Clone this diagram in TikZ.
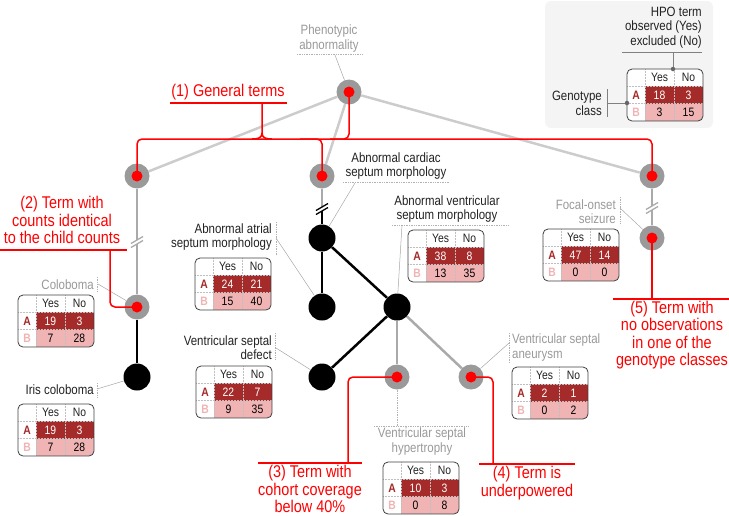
\documentclass[tikz,border=0pt]{standalone}
\usepackage{fontspec}
\setmainfont{Liberation Sans}[FakeStretch=0.85]
\definecolor{ngray}{HTML}{9A9A9A}
\definecolor{lgray}{HTML}{CCCCCC}
\definecolor{mgray}{HTML}{AAAAAA}
\definecolor{txt}{HTML}{222222}
\definecolor{lgtxt}{HTML}{999999}
\definecolor{cA}{HTML}{A52A2A}
\definecolor{cB}{HTML}{F0B4B4}
\definecolor{legbg}{HTML}{F4F4F4}
\tikzset{
 gnode/.style={circle, fill=ngray, minimum size=25pt, inner sep=0pt},
 bnode/.style={circle, fill=black, minimum size=27pt, inner sep=0pt},
 rdot/.style={circle, fill=red, minimum size=11pt, inner sep=0pt},
 ledge/.style={draw=lgray, line width=2.5pt},
 gedge/.style={draw=mgray, line width=2.5pt},
 bedge/.style={draw=black, line width=2.5pt},
 redl/.style={draw=red, line width=1.5pt, rounded corners=5pt},
 leader/.style={draw=gray!70, line width=0.5pt},
 dsep/.style={draw=gray!60, line width=0.7pt, densely dotted},
 lab/.style={font=\fontsize{13.5}{14.5}\selectfont, text=txt, inner sep=0pt, align=right},
 glab/.style={lab, text=lgtxt},
 ann/.style={font=\fontsize{17}{17.5}\selectfont, text=red, inner sep=0pt, align=center},
 tt/.style={font=\fontsize{12.2}{12}\selectfont, inner sep=0pt, text height=8.8pt, text depth=0pt},
 tgrid/.style={draw=gray!50, line width=0.5pt, densely dotted},
 tabframe/.style={draw=black!75, line width=0.8pt, rounded corners=5pt},
 legline/.style={draw=gray, line width=1pt},
 legdot/.style={circle, fill=black!60, minimum size=4.5pt, inner sep=0pt},
}
\newcommand{\ctab}[6]{%
 \begin{scope}[shift={#2}]
  \begin{scope}
   \clip[rounded corners=5pt] (0,0) rectangle (76,52);
   \fill[white] (0,0) rectangle (76,52);
   \fill[cA] (18,17) rectangle (76,34.5);
   \fill[cB] (18,34.5) rectangle (76,52);
  \end{scope}
  \draw[tgrid] (18,0) -- (18,52) (47,0) -- (47,52) (0,17) -- (76,17) (0,34.5) -- (76,34.5);
  \draw[tabframe] (0,0) rectangle (76,52);
  \node[tt, text=txt] (#1-yes) at (32.5,8.5) {Yes};
  \node[tt, text=txt] (#1-no) at (61.5,8.5) {No};
  \node[tt, text=cA, font=\fontsize{12.2}{12}\selectfont\bfseries] (#1-a) at (9,25.8) {A};
  \node[tt, text=cB, font=\fontsize{12.2}{12}\selectfont\bfseries] (#1-b) at (9,43.3) {B};
  \node[tt, text=white] (#1-ay) at (32.5,25.8) {#3};
  \node[tt, text=white] (#1-an) at (61.5,25.8) {#4};
  \node[tt, text=black] (#1-by) at (32.5,43.3) {#5};
  \node[tt, text=black] (#1-bn) at (61.5,43.3) {#6};
 \end{scope}}
\newcommand{\brkmark}[2]{%
 \fill[white] ([shift={(-7,2.2)}]#1) -- ([shift={(7,-5.8)}]#1) -- ([shift={(7,-2.2)}]#1) -- ([shift={(-7,5.8)}]#1) -- cycle;
 \draw[#2, line width=1.3pt] ([shift={(-6,5.5)}]#1) -- ([shift={(6,-1.5)}]#1);
 \draw[#2, line width=1.3pt] ([shift={(-6,1.5)}]#1) -- ([shift={(6,-5.5)}]#1);}
\begin{document}
\begin{tikzpicture}[x=1pt,y=-1pt]
\useasboundingbox (0,0) rectangle (729,515);
% legend box
\fill[legbg, rounded corners=6pt] (545,1) rectangle (713,128);
\node[lab, anchor=east] (legtxt) at (702,27.5) {HPO term\\observed (Yes)\\excluded (No)};
\node[lab, anchor=east] (leggc) at (602,103.5) {Genotype\\class};
\ctab{leg}{(627,69)}{18}{3}{3}{15}
\node[legdot] (legd1) at (673,69) {};
\node[legdot] (legd2) at (627,103) {};
\coordinate (legh1) at (622,52);
\coordinate (legh2) at (702,52);
\coordinate (legh3) at (673,52);
\coordinate (legv1) at (607,89);
\coordinate (legv2) at (607,117);
\coordinate (legv3) at (607,103);
\draw[legline] (legh1) -- (legh2);
\draw[legline] (legh3) -- (legd1);
\draw[legline] (legv1) -- (legv2);
\draw[legline] (legv3) -- (legd2);

% tree nodes
\node[gnode] (root) at (349,92) {};
\node[gnode] (l1a) at (137,176) {};
\node[gnode] (l1b) at (322,176) {};
\node[gnode] (l1c) at (652,176) {};
\node[gnode] (colo) at (137,307) {};
\node[bnode] (iris) at (137,377) {};
\node[bnode] (card) at (322,238) {};
\node[bnode] (atr) at (322,307) {};
\node[bnode] (vent) at (397,307) {};
\node[bnode] (vsd) at (322,377) {};
\node[gnode] (vsh) at (397,377) {};
\node[gnode] (vsa) at (471,377) {};
\node[gnode] (foc) at (652,238) {};
\node[rdot] (rootd) at (root) {};
\node[rdot] (l1ad) at (l1a) {};
\node[rdot] (l1bd) at (l1b) {};
\node[rdot] (l1cd) at (l1c) {};
\node[rdot] (colod) at (colo) {};
\node[rdot] (vshd) at (vsh) {};
\node[rdot] (vsad) at (vsa) {};
\node[rdot] (focd) at (foc) {};

% edges
\draw[ledge] (root) -- (l1a);
\draw[ledge] (root) -- (l1b);
\draw[ledge] (root) -- (l1c);
\draw[gedge] (l1a) -- (colo);
\draw[bedge] (colo) -- (iris);
\coordinate (brk2) at (322,209);
\draw[gedge] (l1b) -- (brk2);
\draw[bedge] (brk2) -- (card);
\draw[bedge] (card) -- (atr);
\draw[bedge] (card) -- (vent);
\draw[bedge] (vent) -- (vsd);
\draw[gedge] (vent) -- (vsh);
\draw[gedge] (vent) -- (vsa);
\draw[gedge] (l1c) -- (foc);
\coordinate (brk1) at (137,242);
\coordinate (brk3) at (652,208);
\brkmark{brk1}{mgray}
\brkmark{brk2}{black}
\brkmark{brk3}{mgray}

% labels
\node[glab, align=center] (phlab) at (329,38.5) {Phenotypic\\abnormality};
\draw[dsep] (297,54) -- (362,54);
\coordinate (phl) at (335,55);
\draw[leader] (phl) -- (root);

\node[lab, align=center] (cardlab) at (396,166) {Abnormal cardiac\\septum morphology};
\draw[dsep] (343,182) -- (450,182);
\coordinate (cardl) at (355,183);
\draw[leader] (cardl) -- (card);

\node[lab, anchor=east] (atrlab) at (272,237) {Abnormal atrial\\septum morphology};
\draw[dsep] (276,222) -- (276,255);
\coordinate (atrl) at (276,238);
\draw[leader] (atrl) -- (atr);

\node[lab, align=center] (ventlab) at (447,209) {Abnormal ventricular\\septum morphology};
\draw[dsep] (392,225) -- (508,225);
\coordinate (ventl) at (402,225);
\draw[leader] (ventl) -- (vent);

\node[lab, anchor=east] (vsdlab) at (272,347.5) {Ventricular septal\\defect};
\draw[dsep] (275,333) -- (275,360);
\coordinate (vsdl) at (276,348);
\draw[leader] (vsdl) -- (vsd);

\node[glab, align=center] (vshlab) at (422,441.5) {Ventricular septal\\hypertrophy};
\draw[dsep] (374,426) -- (469,426);
\coordinate (vshl) at (397,426);
\draw[dsep] (vsh) -- (vshl);

\node[glab, anchor=west, align=left] (vsalab) at (512,347.5) {Ventricular septal\\aneurysm};
\draw[dsep] (509,333) -- (509,363);
\coordinate (vsal) at (509,343);
\draw[leader] (vsal) -- (vsa);

\node[glab, anchor=east] (foclab) at (616,211.5) {Focal-onset\\seizure};
\draw[dsep] (620,197) -- (620,223);
\coordinate (focl) at (620,208);
\draw[leader] (focl) -- (foc);

\node[glab, anchor=east] (cololab) at (94,285) {Coloboma};
\draw[dsep] (97,277) -- (97,292);
\coordinate (colol) at (98,284);
\draw[leader] (colol) -- (colo);

\node[lab, anchor=east] (irislab) at (94,390) {Iris coloboma};
\draw[dsep] (97,383) -- (97,398);
\coordinate (irisl) at (97,389);
\draw[leader] (irisl) -- (iris);

% tables
\ctab{tcolo}{(18,295)}{19}{3}{7}{28}
\ctab{tiris}{(18,404)}{19}{3}{7}{28}
\ctab{tatr}{(195,258)}{24}{21}{15}{40}
\ctab{tvent}{(408,230)}{38}{8}{13}{35}
\ctab{tvsd}{(196,366)}{22}{7}{9}{35}
\ctab{tvsh}{(383,462)}{10}{3}{0}{8}
\ctab{tvsa}{(512,367)}{2}{1}{0}{2}
\ctab{tfoc}{(543,229)}{47}{14}{0}{0}

% annotations
\node[ann] (ann1) at (228,92) {(1) General terms};
\draw[red, line width=1.5pt] (170,103) -- (287,103);
\coordinate (br1) at (262,103);
\coordinate (br2) at (262,133);
\coordinate (br3) at (252,139);
\coordinate (br4) at (272,139);
\draw[red, line width=1.5pt] (br1) -- (br2) .. controls (262,138) and (258,139) .. (br3);
\draw[red, line width=1.5pt] (br2) .. controls (262,138) and (266,139) .. (br4);
\draw[redl] (l1ad.center) |- (652,139) -- (l1cd.center);
\coordinate (rt1) at (330,139);
\draw[redl] (rootd.center) |- (rt1);
\coordinate (mt1) at (300,139);
\draw[redl] (mt1) -| (l1bd.center);

\node[ann] (ann2) at (62,220) {(2) Term with\\counts identical\\to the child counts};
\draw[red, line width=1.5pt] (0,250) -- (127,250);
\coordinate (a2) at (110,250);
\draw[redl] (a2) |- (colod.center);

\node[ann] (ann3) at (310,489) {(3) Term with\\cohort coverage\\below 40\%};
\draw[red, line width=1.5pt] (258,463) -- (362,463);
\coordinate (a3) at (348,463);
\draw[redl] (vshd.center) -| (a3);

\node[ann] (ann4) at (527,483) {(4) Term is\\underpowered};
\draw[red, line width=1.5pt] (479,464) -- (575,464);
\coordinate (a4) at (493,464);
\draw[redl] (vsad.center) -| (a4);

\node[ann] (ann5) at (672,335) {(5) Term with\\no observations\\in one of the\\genotype classes};
\draw[red, line width=1.5pt] (613,299) -- (729,299);
\coordinate (a5) at (652,299);
\draw[redl] (focd.center) -- (a5);
\end{tikzpicture}
\end{document}
